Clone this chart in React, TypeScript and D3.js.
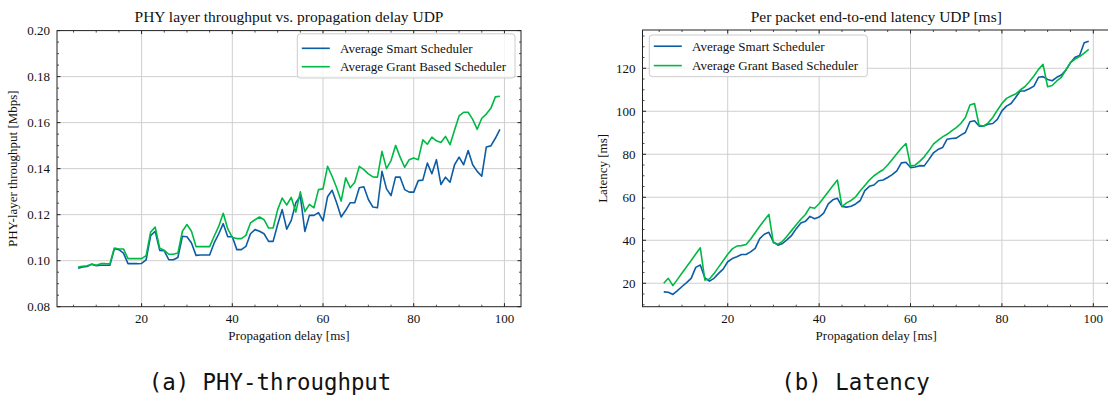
import React from 'react';
import * as d3 from 'd3';

const delays = [6,7,8,9,10,11,12,13,14,15,16,17,18,19,20,21,22,23,24,25,26,27,28,29,30,31,32,33,34,35,36,37,38,39,40,41,42,43,44,45,46,47,48,49,50,51,52,53,54,55,56,57,58,59,60,61,62,63,64,65,66,67,68,69,70,71,72,73,74,75,76,77,78,79,80,81,82,83,84,85,86,87,88,89,90,91,92,93,94,95,96,97,98,99];

const phySmart = [0.0967,0.0973,0.0975,0.0985,0.0978,0.0980,0.0980,0.0980,0.1052,0.1048,0.1033,0.0987,0.0987,0.0987,0.0988,0.1004,0.1109,0.1128,0.1045,0.1043,0.1004,0.1004,0.1014,0.1106,0.1104,0.1077,0.1023,0.1025,0.1025,0.1025,0.1077,0.1116,0.1161,0.1104,0.1104,0.1048,0.1048,0.1062,0.1117,0.1135,0.1128,0.1117,0.1084,0.1084,0.1157,0.1222,0.1137,0.1175,0.1252,0.1280,0.1127,0.1197,0.1197,0.1209,0.1173,0.1278,0.1306,0.1252,0.1190,0.1219,0.1252,0.1252,0.1317,0.1321,0.1266,0.1233,0.1230,0.1388,0.1312,0.1283,0.1364,0.1363,0.1309,0.1298,0.1298,0.1348,0.1350,0.1424,0.1378,0.1439,0.1331,0.1363,0.1341,0.1417,0.1450,0.1417,0.1479,0.1417,0.1388,0.1367,0.1494,0.1499,0.1532,0.1571];

const phyGrant = [0.0972,0.0976,0.0978,0.0985,0.0980,0.0987,0.0987,0.0986,0.1055,0.1051,0.1051,0.1009,0.1009,0.1009,0.1009,0.1022,0.1125,0.1146,0.1054,0.1045,0.1028,0.1028,0.1033,0.1128,0.1157,0.1128,0.1061,0.1061,0.1061,0.1061,0.1106,0.1149,0.1206,0.1138,0.1101,0.1096,0.1096,0.1110,0.1164,0.1178,0.1190,0.1178,0.1142,0.1142,0.1222,0.1272,0.1242,0.1275,0.1211,0.1299,0.1213,0.1245,0.1230,0.1309,0.1312,0.1410,0.1367,0.1317,0.1259,0.1360,0.1317,0.1341,0.1410,0.1396,0.1377,0.1364,0.1363,0.1475,0.1400,0.1435,0.1501,0.1450,0.1406,0.1439,0.1446,0.1439,0.1525,0.1506,0.1537,0.1521,0.1514,0.1540,0.1504,0.1568,0.1629,0.1645,0.1645,0.1614,0.1571,0.1619,0.1637,0.1662,0.1712,0.1715];

const latSmart = [16.0,15.8,14.8,16.6,18.5,20.3,22.3,27.4,28.5,22.5,21.0,22.3,24.6,26.6,30.0,31.5,32.3,33.4,33.4,34.6,36.2,40.8,42.8,43.7,39.2,37.7,38.5,40.3,42.3,45.4,48.0,48.8,51.1,50.0,50.8,52.6,56.9,58.8,59.5,55.7,55.4,55.8,56.9,58.5,63.1,65.1,65.7,67.7,68.0,69.2,70.5,72.3,76.0,76.3,73.8,74.1,74.7,74.6,77.5,80.6,82.2,83.1,87.0,87.3,87.5,88.9,90.1,95.1,95.6,93.1,93.1,94.0,94.3,96.2,100.2,102.4,103.6,106.4,109.4,109.5,110.5,111.7,115.8,116.1,114.8,114.2,115.8,116.9,119.2,122.6,125.1,125.9,131.9,132.6];

const latGrant = [20.0,22.3,18.9,21.8,24.8,27.7,30.6,33.6,36.5,21.5,22.0,24.5,27.5,30.5,33.5,36.0,37.3,37.5,38.0,40.5,43.5,46.5,49.3,52.0,38.8,38.2,39.5,42.0,44.6,47.2,49.8,52.0,55.4,54.9,57.0,59.8,62.6,65.4,68.0,55.7,57.4,58.5,60.2,63.0,65.5,68.0,70.0,71.5,72.8,75.0,77.6,80.2,82.8,85.0,74.6,74.9,76.7,78.8,81.6,84.7,86.5,88.1,89.3,90.9,92.4,94.3,97.1,102.9,103.6,93.5,93.1,94.6,97.1,100.5,103.6,106.0,107.1,108.0,109.9,111.4,113.7,116.4,119.5,121.8,111.4,112.0,114.1,115.8,119.2,122.6,124.3,125.4,127.0,128.8];

const xTicks = [20, 40, 60, 80, 100];
const phyYTicks = [0.08, 0.10, 0.12, 0.14, 0.16, 0.18, 0.20];
const latYTicks = [20, 40, 60, 80, 100, 120];
const seriesNames = ['Average Smart Scheduler', 'Average Grant Based Scheduler'];
const seriesColors = ['#0C5DA5', '#00B945'];

const SERIF = "'Liberation Serif', 'Times New Roman', serif";
const MONO = "'DejaVu Sans Mono', monospace";
const xDomain: [number, number] = [1.35, 103.65];

type Cfg = {
  x0: number; x1: number; y0: number; y1: number;
  yDomain: [number, number]; yTicks: number[]; yMinorStep: number; yFmt: (v: number) => string;
  title: string; ylabel: string; ylabelX: number;
  smart: number[]; grant: number[];
  legend: { x: number; y: number; w: number; h: number; r1: number; r2: number };
  caption: string; captionX: number;
};

function Panel({ cfg }: { cfg: Cfg }) {
  const x = d3.scaleLinear().domain(xDomain).range([cfg.x0, cfg.x1]);
  const y = d3.scaleLinear().domain(cfg.yDomain).range([cfg.y1, cfg.y0]);
  const line = d3.line<number>().x((_, i) => x(delays[i])).y(d => y(d));
  const xMinor = d3.range(0, 105, 5).filter(v => v > xDomain[0] && v < xDomain[1] && v % 20 !== 0);
  const eps = 1e-9;
  const yMinor = d3.range(Math.ceil(cfg.yDomain[0] / cfg.yMinorStep) * cfg.yMinorStep, cfg.yDomain[1] + eps, cfg.yMinorStep)
    .filter(v => v >= cfg.yDomain[0] - eps && !cfg.yTicks.some(t => Math.abs(t - v) < cfg.yMinorStep / 10));
  const maj = 3.5, mnr = 2;
  const cx = (cfg.x0 + cfg.x1) / 2;
  const cy = (cfg.y0 + cfg.y1) / 2;
  const L = cfg.legend;
  return (
    <g>
      <defs>
        <clipPath id={'clip' + cfg.x0}>
          <rect x={cfg.x0} y={cfg.y0} width={cfg.x1 - cfg.x0} height={cfg.y1 - cfg.y0} />
        </clipPath>
      </defs>
      {/* grid */}
      {xTicks.map(t => (
        <line key={'gx' + t} x1={x(t)} x2={x(t)} y1={cfg.y0} y2={cfg.y1} stroke="#cfcfcf" strokeWidth={1} />
      ))}
      {cfg.yTicks.filter(t => y(t) > cfg.y0 + 1 && y(t) < cfg.y1 - 1).map(t => (
        <line key={'gy' + t} x1={cfg.x0} x2={cfg.x1} y1={y(t)} y2={y(t)} stroke="#cfcfcf" strokeWidth={1} />
      ))}
      {/* series */}
      <g clipPath={`url(#clip${cfg.x0})`}>
        <path d={line(cfg.smart) || ''} fill="none" stroke={seriesColors[0]} strokeWidth={1.6} strokeLinejoin="round" />
        <path d={line(cfg.grant) || ''} fill="none" stroke={seriesColors[1]} strokeWidth={1.6} strokeLinejoin="round" />
      </g>
      {/* spines */}
      <rect x={cfg.x0} y={cfg.y0} width={cfg.x1 - cfg.x0} height={cfg.y1 - cfg.y0} fill="none" stroke="#222" strokeWidth={1} />
      {/* ticks */}
      {xTicks.map(t => (
        <g key={'tx' + t}>
          <line x1={x(t)} x2={x(t)} y1={cfg.y1} y2={cfg.y1 - maj} stroke="#222" />
          <line x1={x(t)} x2={x(t)} y1={cfg.y0} y2={cfg.y0 + maj} stroke="#222" />
          <text x={x(t)} y={cfg.y1 + 16} textAnchor="middle" fontFamily={SERIF} fontSize={13} fill="#111">{t}</text>
        </g>
      ))}
      {xMinor.map(t => (
        <g key={'mx' + t}>
          <line x1={x(t)} x2={x(t)} y1={cfg.y1} y2={cfg.y1 - mnr} stroke="#222" strokeWidth={0.8} />
          <line x1={x(t)} x2={x(t)} y1={cfg.y0} y2={cfg.y0 + mnr} stroke="#222" strokeWidth={0.8} />
        </g>
      ))}
      {cfg.yTicks.map(t => (
        <g key={'ty' + t}>
          <line x1={cfg.x0} x2={cfg.x0 + maj} y1={y(t)} y2={y(t)} stroke="#222" />
          <line x1={cfg.x1} x2={cfg.x1 - maj} y1={y(t)} y2={y(t)} stroke="#222" />
          <text x={cfg.x0 - 7} y={y(t) + 4.5} textAnchor="end" fontFamily={SERIF} fontSize={13} fill="#111">{cfg.yFmt(t)}</text>
        </g>
      ))}
      {yMinor.map(t => (
        <g key={'my' + t}>
          <line x1={cfg.x0} x2={cfg.x0 + mnr} y1={y(t)} y2={y(t)} stroke="#222" strokeWidth={0.8} />
          <line x1={cfg.x1} x2={cfg.x1 - mnr} y1={y(t)} y2={y(t)} stroke="#222" strokeWidth={0.8} />
        </g>
      ))}
      {/* labels */}
      <text x={cx} y={22} textAnchor="middle" fontFamily={SERIF} fontSize={15.5} fill="#111">{cfg.title}</text>
      <text x={cx} y={cfg.y1 + 33} textAnchor="middle" fontFamily={SERIF} fontSize={13} fill="#111">Propagation delay [ms]</text>
      <text transform={`translate(${cfg.ylabelX},${cy}) rotate(-90)`} textAnchor="middle" fontFamily={SERIF} fontSize={13} fill="#111">{cfg.ylabel}</text>
      {/* legend */}
      <rect x={L.x} y={L.y} width={L.w} height={L.h} rx={3} fill="#fff" fillOpacity={0.8} stroke="#cccccc" strokeWidth={1} />
      {[L.r1, L.r2].map((ry, i) => (
        <g key={'lg' + i}>
          <line x1={L.x + 4.5} x2={L.x + 32.5} y1={ry} y2={ry} stroke={seriesColors[i]} strokeWidth={1.6} />
          <text x={L.x + 42.7} y={ry + 4.5} fontFamily={SERIF} fontSize={13} fill="#111">{seriesNames[i]}</text>
        </g>
      ))}
      {/* caption */}
      <text x={cfg.captionX} y={390} textAnchor="middle" fontFamily={MONO} fontSize={22.4} fill="#111">{cfg.caption}</text>
    </g>
  );
}

export default function App() {
  const left: Cfg = {
    x0: 57, x1: 521, y0: 30.6, y1: 306.7,
    yDomain: [0.08, 0.20], yTicks: phyYTicks, yMinorStep: 0.005, yFmt: v => v.toFixed(2),
    title: 'PHY layer throughput vs. propagation delay UDP', ylabel: 'PHY-layer throughput [Mbps]', ylabelX: 17,
    smart: phySmart, grant: phyGrant,
    legend: { x: 297.3, y: 33.8, w: 217.7, h: 44.2, r1: 48.3, r2: 66.7 },
    caption: '(a) PHY-throughput', captionX: 270,
  };
  const right: Cfg = {
    x0: 642.5, x1: 1110, y0: 30, y1: 306.7,
    yDomain: [9.1, 137.8], yTicks: latYTicks, yMinorStep: 5, yFmt: v => String(v),
    title: 'Per packet end-to-end latency UDP [ms]', ylabel: 'Latency [ms]', ylabelX: 607,
    smart: latSmart, grant: latGrant,
    legend: { x: 649.3, y: 35, w: 218, h: 41.7, r1: 46.2, r2: 65.6 },
    caption: '(b) Latency', captionX: 855.5,
  };
  return (
    <svg width={1108} height={401} style={{ position: 'absolute', left: 0, top: 0, background: '#fff' }}>
      <rect x={0} y={0} width={1108} height={401} fill="#fff" />
      <Panel cfg={left} />
      <Panel cfg={right} />
    </svg>
  );
}
